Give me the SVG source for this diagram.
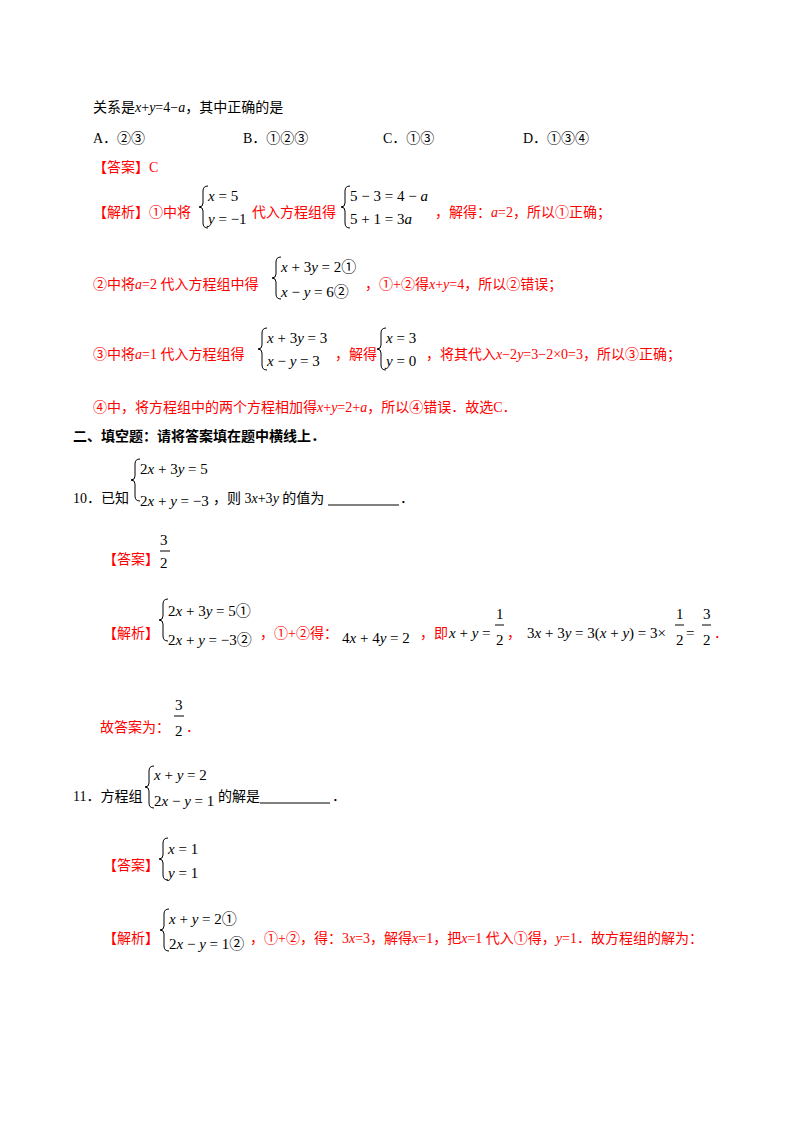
<svg xmlns="http://www.w3.org/2000/svg" width="800" height="1132" viewBox="0 0 800 1132">
<style>
text{font-family:"Liberation Serif","Noto Sans CJK SC",serif;font-size:14px;fill:#000}
.r{fill:#f00}
.m{font-size:15px}
.i{font-style:italic}
.b{fill:none;stroke:#000;stroke-width:1}
.ln{stroke:#000;stroke-width:1}
</style>
<rect width="800" height="1132" fill="#fff"/>
<defs>
<path id="br" class="b" d="M5,0 Q0,0 0,5 L0,17 Q0,21 -4,21 Q0,21 0,25 L0,37 Q0,42 5,42"/>
</defs>
<text x="93" y="112">关系是<tspan class="i">x</tspan>+<tspan class="i">y</tspan>=4−<tspan class="i">a</tspan>，其中正确的是</text>
<text x="93" y="143">A．②③</text>
<text x="243" y="143">B．①②③</text>
<text x="383" y="143">C．①③</text>
<text x="523" y="143">D．①③④</text>
<text x="93" y="172" class="r">【答案】C</text>

<text x="93" y="217" class="r">【解析】①中将</text>
<use href="#br" x="203" y="186"/>
<text x="208" y="201" class="m"><tspan class="i">x</tspan> = 5</text>
<text x="208" y="224" class="m"><tspan class="i">y</tspan> = −1</text>
<text x="252" y="217" class="r">代入方程组得</text>
<use href="#br" x="345" y="186"/>
<text x="350" y="201" class="m">5 − 3 = 4 − <tspan class="i">a</tspan></text>
<text x="350" y="224" class="m">5 + 1 = 3<tspan class="i">a</tspan></text>
<text x="435" y="217" class="r">，解得：<tspan class="i">a</tspan>=2，所以①正确；</text>

<text x="93" y="289" class="r">②中将<tspan class="i">a</tspan>=2 代入方程组中得</text>
<use href="#br" x="276" y="257"/>
<text x="281" y="272" class="m"><tspan class="i">x</tspan> + 3<tspan class="i">y</tspan> = 2①</text>
<text x="281" y="297" class="m"><tspan class="i">x</tspan> − <tspan class="i">y</tspan> = 6②</text>
<text x="365" y="289" class="r">，①+②得<tspan class="i">x</tspan>+<tspan class="i">y</tspan>=4，所以②错误；</text>

<text x="93" y="359" class="r">③中将<tspan class="i">a</tspan>=1 代入方程组得</text>
<use href="#br" x="262" y="328"/>
<text x="267" y="343" class="m"><tspan class="i">x</tspan> + 3<tspan class="i">y</tspan> = 3</text>
<text x="267" y="366" class="m"><tspan class="i">x</tspan> − <tspan class="i">y</tspan> = 3</text>
<text x="335" y="359" class="r">，解得</text>
<use href="#br" x="381" y="328"/>
<text x="386" y="343" class="m"><tspan class="i">x</tspan> = 3</text>
<text x="386" y="366" class="m"><tspan class="i">y</tspan> = 0</text>
<text x="426" y="359" class="r">，将其代入<tspan class="i">x</tspan>−2<tspan class="i">y</tspan>=3−2×0=3，所以③正确；</text>

<text x="93" y="412" class="r">④中，将方程组中的两个方程相加得<tspan class="i">x</tspan>+<tspan class="i">y</tspan>=2+<tspan class="i">a</tspan>，所以④错误．故选C．</text>

<text x="73" y="441" font-weight="bold">二、填空题：请将答案填在题中横线上．</text>

<text x="73" y="503">10．已知</text>
<use href="#br" x="135" y="459"/>
<text x="140" y="474" class="m">2<tspan class="i">x</tspan> + 3<tspan class="i">y</tspan> = 5</text>
<text x="140" y="506" class="m">2<tspan class="i">x</tspan> + <tspan class="i">y</tspan> = −3</text>
<text x="213" y="503">，则 3<tspan class="i">x</tspan>+3<tspan class="i">y</tspan> 的值为</text>
<line class="ln" x1="328" y1="505" x2="399" y2="505"/>
<text x="400" y="503">．</text>

<text x="103" y="564" class="r">【答案】</text>
<text x="160" y="568" class="m">2</text>
<text x="160" y="545" class="m">3</text>
<line class="ln" x1="160" y1="551" x2="170" y2="551"/>

<text x="103" y="688" class="r"></text>
<text x="103" y="682" class="r" opacity="0"></text>
<text x="103" y="683" class="r" display="none"></text>
<text x="103" y="683" class="r" style="display:none"></text>
<text x="103" y="683" class="r" visibility="hidden"></text>
<text x="103" y="686" class="r" visibility="hidden"></text>
<text x="103" y="680" class="r" visibility="hidden"></text>
<text x="103" y="638" class="r">【解析】</text>
<use href="#br" x="163" y="599"/>
<text x="168" y="616" class="m">2<tspan class="i">x</tspan> + 3<tspan class="i">y</tspan> = 5①</text>
<text x="168" y="645" class="m">2<tspan class="i">x</tspan> + <tspan class="i">y</tspan> = −3②</text>
<text x="260" y="638" class="r">，①+②得：</text>
<text x="342" y="643" class="m">4<tspan class="i">x</tspan> + 4<tspan class="i">y</tspan> = 2</text>
<text x="420" y="638" class="r">，即</text>
<text x="449" y="638" class="m"><tspan class="i">x</tspan> + <tspan class="i">y</tspan> =</text>
<text x="496" y="619" class="m">1</text>
<line class="ln" x1="495" y1="625" x2="504" y2="625"/>
<text x="496" y="645" class="m">2</text>
<text x="507" y="638" class="r">，</text>
<text x="527" y="638" class="m">3<tspan class="i">x</tspan> + 3<tspan class="i">y</tspan> = 3(<tspan class="i">x</tspan> + <tspan class="i">y</tspan>) = 3×</text>
<text x="676" y="619" class="m">1</text>
<line class="ln" x1="675" y1="625" x2="684" y2="625"/>
<text x="676" y="645" class="m">2</text>
<text x="686" y="638" class="m">=</text>
<text x="703" y="619" class="m">3</text>
<line class="ln" x1="702" y1="625" x2="711" y2="625"/>
<text x="703" y="645" class="m">2</text>
<text x="714" y="638" class="r">．</text>

<text x="100" y="732" class="r">故答案为：</text>
<text x="175" y="710" class="m">3</text>
<line class="ln" x1="174" y1="716" x2="184" y2="716"/>
<text x="175" y="736" class="m">2</text>
<text x="186" y="732" class="r">．</text>

<text x="73" y="801">11．方程组</text>
<use href="#br" x="149" y="766"/>
<text x="154" y="780" class="m"><tspan class="i">x</tspan> + <tspan class="i">y</tspan> = 2</text>
<text x="154" y="806" class="m">2<tspan class="i">x</tspan> − <tspan class="i">y</tspan> = 1</text>
<text x="218" y="801">的解是</text>
<line class="ln" x1="260" y1="803" x2="330" y2="803"/>
<text x="332" y="801">．</text>

<text x="103" y="870" class="r">【答案】</text>
<use href="#br" x="163" y="838"/>
<text x="168" y="854" class="m"><tspan class="i">x</tspan> = 1</text>
<text x="168" y="878" class="m"><tspan class="i">y</tspan> = 1</text>

<text x="103" y="943" class="r">【解析】</text>
<use href="#br" x="164" y="909"/>
<text x="169" y="924" class="m"><tspan class="i">x</tspan> + <tspan class="i">y</tspan> = 2①</text>
<text x="169" y="949" class="m">2<tspan class="i">x</tspan> − <tspan class="i">y</tspan> = 1②</text>
<text x="250" y="943" class="r">，①+②，得：3<tspan class="i">x</tspan>=3，解得<tspan class="i">x</tspan>=1，把<tspan class="i">x</tspan>=1 代入①得，<tspan class="i">y</tspan>=1．故方程组的解为：</text>
</svg>
